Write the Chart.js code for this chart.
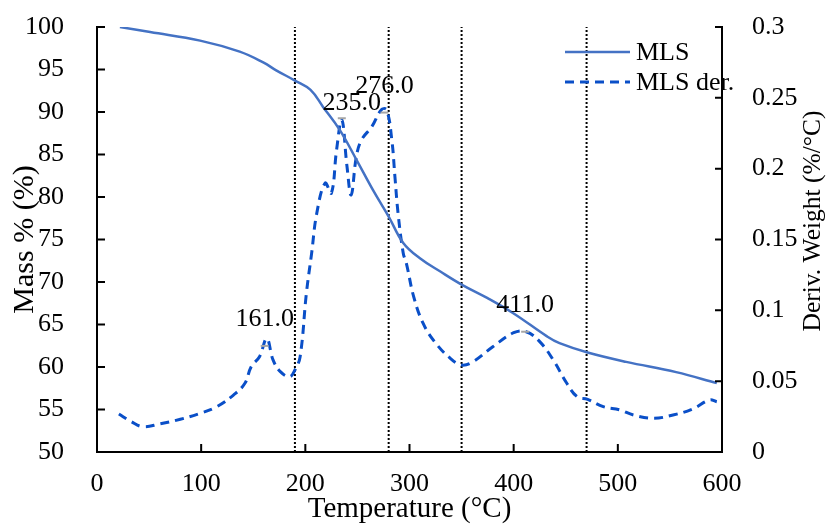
<!DOCTYPE html>
<html>
<head>
<meta charset="utf-8">
<script src="https://cdn.jsdelivr.net/npm/chart.js@4.4.0/dist/chart.umd.min.js"></script>
<style>
  html, body { margin: 0; padding: 0; background: #fff; }
  #caixa { width: 830px; height: 527px; }
</style>
</head>
<body>
<div id="caixa"><canvas id="grafico"></canvas></div>
<script>
// curva de massa (MLS) - eixo esquerdo
var massaT = [22, 51, 99, 137, 160, 172, 190, 205, 217, 233, 249, 265, 280, 294, 310, 330, 350, 375, 400, 432, 444, 471, 508, 556, 595];
var massa  = [100, 99.4, 98.4, 97.1, 95.8, 94.9, 93.7, 92.6, 90.6, 87.9, 84.4, 80.8, 77.7, 74.6, 72.8, 71.2, 69.7, 68.1, 66.3, 63.6, 62.8, 61.7, 60.6, 59.4, 58.1];

// derivada (MLS der.) - eixo direito
var derT = [21, 33, 44, 60, 80, 99, 115, 131, 142, 148, 156, 163, 169, 176, 185, 190, 195, 201, 206, 211, 219, 225, 230, 235, 240, 244, 249, 254, 264, 273, 278, 283, 286, 289, 294, 297, 304, 313, 324, 339, 350, 361, 380, 400, 412, 425, 438, 451, 461, 471, 486, 502, 515, 534, 553, 572, 588, 595];
var derV = [0.0268, 0.0214, 0.0179, 0.0198, 0.0231, 0.0273, 0.032, 0.0402, 0.0485, 0.0602, 0.0673, 0.080, 0.065, 0.0567, 0.0532, 0.0579, 0.0673, 0.112, 0.140, 0.1686, 0.1898, 0.1827, 0.2133, 0.2345, 0.2015, 0.1815, 0.2086, 0.2204, 0.2298, 0.2416, 0.2416, 0.2204, 0.1944, 0.1686, 0.1403, 0.1332, 0.1097, 0.0909, 0.0779, 0.0662, 0.0614, 0.0638, 0.0743, 0.0842, 0.0849, 0.0779, 0.065, 0.0485, 0.039, 0.0372, 0.032, 0.0297, 0.0261, 0.0238, 0.0261, 0.0304, 0.0367, 0.0355];

// picos marcados
var picoT = [161, 235, 276, 411];
var picoV = [0.0749, 0.2356, 0.2396, 0.0849];
var picoTexto = ["161.0", "235.0", "276.0", "411.0"];

// linhas verticais pontilhadas
var linhasX = [190, 280, 350, 470];

var fonte = '"Liberation Serif", "Times New Roman", serif';
Chart.defaults.font.family = fonte;
Chart.defaults.color = '#000';

function pares(xs, ys) {
    var out = [];
    for (var i = 0; i < xs.length; i++) out.push({ x: xs[i], y: ys[i] });
    return out;
}

var datasets = [
    {
        label: 'MLS',
        data: pares(massaT, massa),
        yAxisID: 'y',
        borderColor: '#4472C4',
        borderWidth: 2.5,
        pointRadius: 0,
        tension: 0.4,
        order: 1
    },
    {
        label: 'MLS der.',
        data: pares(derT, derV),
        yAxisID: 'y2',
        borderColor: '#0A4FC8',
        borderWidth: 3,
        borderDash: [9, 6],
        pointRadius: 0,
        tension: 0.4,
        order: 2
    },
    {
        label: 'picos',
        data: pares(picoT, picoV),
        yAxisID: 'y2',
        showLine: false,
        pointStyle: 'line',
        pointRadius: 4,
        pointBorderWidth: 2,
        pointBorderColor: '#A6A6A6',
        borderColor: '#A6A6A6',
        order: 0
    }
];

linhasX.forEach(function (lx) {
    datasets.push({
        label: 'vline',
        data: [{ x: lx, y: 50 }, { x: lx, y: 100 }],
        yAxisID: 'y',
        borderColor: '#000',
        borderWidth: 2,
        borderDash: [2, 2],
        pointRadius: 0,
        order: 5
    });
});

// ticks para dentro da area do grafico
var ticksInternos = {
    id: 'ticksInternos',
    afterDraw: function (chart) {
        var ctx = chart.ctx, a = chart.chartArea;
        var sx = chart.scales.x, sy = chart.scales.y, sy2 = chart.scales.y2;
        ctx.save();
        ctx.strokeStyle = '#000';
        ctx.lineWidth = 2;
        ctx.beginPath();
        sx.ticks.forEach(function (t, i) {
            var px = sx.getPixelForTick(i);
            ctx.moveTo(px, a.bottom);
            ctx.lineTo(px, a.bottom - 8);
        });
        sy.ticks.forEach(function (t, i) {
            var py = sy.getPixelForTick(i);
            ctx.moveTo(a.left, py);
            ctx.lineTo(a.left + 8, py);
        });
        sy2.ticks.forEach(function (t, i) {
            var py = sy2.getPixelForTick(i);
            ctx.moveTo(a.right, py);
            ctx.lineTo(a.right - 7, py);
        });
        ctx.stroke();
        ctx.restore();
    }
};

// rotulos dos picos, legenda e titulo do eixo direito
var textos = {
    id: 'textos',
    afterDraw: function (chart) {
        var ctx = chart.ctx;
        var meta = chart.getDatasetMeta(2);
        var desloc = [[0, 20], [10, 8], [0, 20], [0, 20]];
        ctx.save();
        ctx.fillStyle = '#000';
        ctx.font = '26px ' + fonte;
        ctx.textAlign = 'center';
        ctx.textBaseline = 'alphabetic';
        meta.data.forEach(function (p, i) {
            ctx.fillText(picoTexto[i], p.x + desloc[i][0], p.y - desloc[i][1]);
        });

        // legenda
        ctx.textAlign = 'left';
        ctx.textBaseline = 'middle';
        [0, 1].forEach(function (k) {
            var ds = chart.data.datasets[k];
            var ly = 52 + k * 30;
            ctx.beginPath();
            ctx.strokeStyle = ds.borderColor;
            ctx.lineWidth = ds.borderWidth;
            ctx.setLineDash(ds.borderDash || []);
            ctx.moveTo(565, ly);
            ctx.lineTo(630, ly);
            ctx.stroke();
            ctx.setLineDash([]);
            ctx.fillText(ds.label, 636, ly + 1);
        });

        // titulo eixo direito
        ctx.translate(813, 221);
        ctx.rotate(-Math.PI / 2);
        ctx.textAlign = 'center';
        ctx.font = '25.5px ' + fonte;
        ctx.fillText('Deriv. Weight (%/°C)', 0, 0);
        ctx.restore();
    }
};

function semPadding(s) {
    s.paddingTop = 0;
    s.paddingBottom = 0;
}

new Chart('grafico', {
    type: 'line',
    data: { datasets: datasets },
    options: {
        responsive: true,
        maintainAspectRatio: false,
        animation: false,
        devicePixelRatio: 1,
        layout: { padding: { top: 27, left: 0, right: 0, bottom: 0 } },
        plugins: {
            legend: { display: false },
            tooltip: { enabled: false }
        },
        scales: {
            x: {
                type: 'linear',
                min: 0,
                max: 600,
                ticks: { stepSize: 100, padding: 9, font: { size: 26 }, maxRotation: 0 },
                grid: { display: false },
                border: { display: true, color: '#000', width: 2 },
                title: { display: true, text: 'Temperature (°C)', font: { size: 29 }, padding: { top: 0, bottom: 0 } },
                afterFit: function (s) { s.height = 75; }
            },
            y: {
                position: 'left',
                min: 50,
                max: 100,
                ticks: { stepSize: 5, padding: 25, font: { size: 26 } },
                grid: { display: false },
                border: { display: true, color: '#000', width: 2 },
                title: { display: true, text: 'Mass % (%)', font: { size: 30 }, padding: { top: 7, bottom: 0 } },
                afterFit: function (s) { s.width = 97; semPadding(s); }
            },
            y2: {
                position: 'right',
                min: 0,
                max: 0.3,
                ticks: {
                    stepSize: 0.05,
                    padding: 22,
                    font: { size: 26 },
                    callback: function (v) { return String(parseFloat(v.toFixed(2))); }
                },
                grid: { display: false },
                border: { display: true, color: '#000', width: 2 },
                afterFit: function (s) { s.width = 108; semPadding(s); }
            }
        }
    },
    plugins: [ticksInternos, textos]
});
</script>
</body>
</html>
